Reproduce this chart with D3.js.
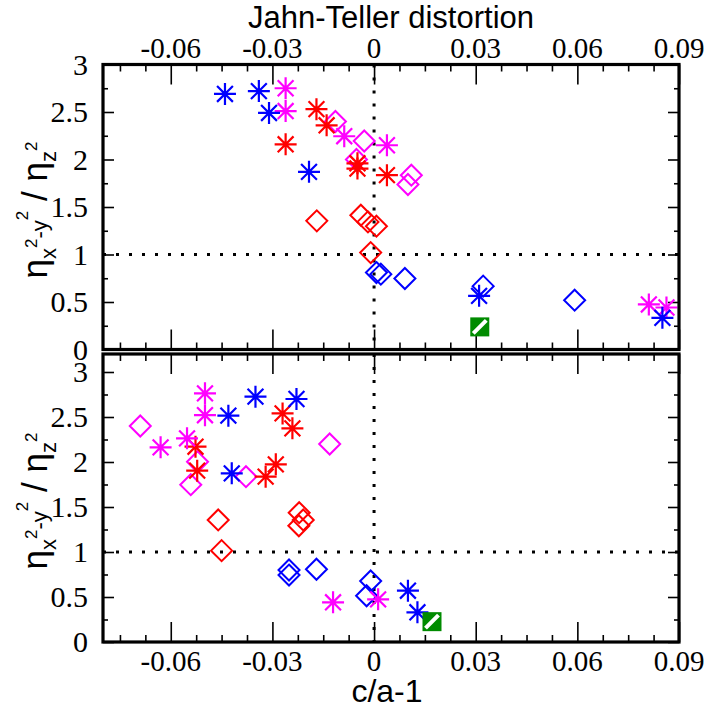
<!DOCTYPE html>
<html>
<head>
<meta charset="utf-8">
<script src="https://cdn.jsdelivr.net/npm/d3@7"></script>
<style>
  html, body { margin: 0; padding: 0; background: #fff; }
  svg { display: block; }
</style>
</head>
<body>
<svg id="chart" width="706" height="708"></svg>
<script>
// Ratio of orbital weights versus tetragonal distortion c/a-1
const xMajorTicks = [-0.06, -0.03, 0, 0.03, 0.06, 0.09];
const xTickLabels = ["-0.06", "-0.03", "0", "0.03", "0.06", "0.09"];
const yMajorTicks = [0, 0.5, 1, 1.5, 2, 2.5, 3];
const yTickLabels = ["0", "0.5", "1", "1.5", "2", "2.5", "3"];

// Upper panel: [c/a-1, ratio]
const topBlueStar = [[-0.0440, 2.69], [-0.0340, 2.72], [-0.0310, 2.49], [-0.0192, 1.87], [0.0310, 0.565], [0.0851, 0.333]];
const topMagentaStar = [[-0.0261, 2.75], [-0.0261, 2.51], [-0.0088, 2.245], [0.0038, 2.15], [0.0811, 0.474], [0.0863, 0.442]];
const topRedStar = [[-0.0170, 2.53], [-0.0140, 2.36], [-0.0261, 2.16], [-0.0049, 1.96], [-0.0049, 1.905], [0.0038, 1.835]];
const topMagentaDiamond = [[-0.0114, 2.40], [-0.0029, 2.195], [-0.0052, 2.0], [0.0110, 1.835], [0.0100, 1.737]];
const topRedDiamond = [[-0.0169, 1.354], [-0.0039, 1.414], [-0.0018, 1.343], [0.0007, 1.298], [-0.0010, 1.02]];
const topBlueDiamond = [[0.0007, 0.81], [0.0020, 0.793], [0.0091, 0.747], [0.0322, 0.667], [0.0592, 0.519]];
const topGreenSquare = [[0.0312, 0.238]];

// Lower panel: [c/a-1, ratio]
const botBlueStar = [[-0.0350, 2.726], [-0.0229, 2.70], [-0.0430, 2.515], [-0.0420, 1.874], [0.0100, 0.57], [0.0128, 0.33]];
const botMagentaStar = [[-0.0499, 2.763], [-0.0499, 2.52], [-0.0630, 2.163], [-0.0552, 2.263], [-0.0121, 0.441], [0.0012, 0.474]];
const botRedStar = [[-0.0270, 2.54], [-0.0241, 2.374], [-0.0527, 2.17], [-0.0522, 1.904], [-0.0290, 1.974], [-0.0320, 1.837]];
const botMagentaDiamond = [[-0.0690, 2.40], [-0.0521, 2.003], [-0.0541, 1.748], [-0.0378, 1.837], [-0.0131, 2.2]];
const botRedDiamond = [[-0.0460, 1.356], [-0.0450, 1.015], [-0.0221, 1.437], [-0.0209, 1.356], [-0.0222, 1.292]];
const botBlueDiamond = [[-0.0251, 0.80], [-0.0251, 0.744], [-0.0170, 0.808], [-0.0010, 0.678], [-0.0022, 0.514]];
const botGreenSquare = [[0.0171, 0.226]];

const BLUE = "#0000ff", RED = "#ff0000", MAGENTA = "#ff00ff", GREEN = "#008b00";
const SERIF = "'Liberation Serif', 'Times New Roman', 'DejaVu Serif', serif";
const SANS = "'Liberation Sans', Arial, sans-serif";

const svg = d3.select("#chart");
const x = d3.scaleLinear().domain([-0.08, 0.09]).range([103, 679]);
const xMinorTicks = d3.range(-0.075, 0.0901, 0.0075).filter(v => !xMajorTicks.some(m => Math.abs(m - v) < 1e-6));
const yMinorTicks = [0.25, 0.75, 1.25, 1.75, 2.25, 2.75];

const panels = [
  { y: d3.scaleLinear().domain([0, 3]).range([349.5, 64.5]), labelsTop: true,
    series: [
      { data: topRedDiamond, shape: "diamond", color: RED },
      { data: topMagentaDiamond, shape: "diamond", color: MAGENTA },
      { data: topBlueDiamond, shape: "diamond", color: BLUE },
      { data: topRedStar, shape: "star", color: RED },
      { data: topMagentaStar, shape: "star", color: MAGENTA },
      { data: topBlueStar, shape: "star", color: BLUE },
      { data: topGreenSquare, shape: "square", color: GREEN }
    ] },
  { y: d3.scaleLinear().domain([0, 3.2]).range([642, 354]), labelsTop: false,
    series: [
      { data: botRedDiamond, shape: "diamond", color: RED },
      { data: botMagentaDiamond, shape: "diamond", color: MAGENTA },
      { data: botBlueDiamond, shape: "diamond", color: BLUE },
      { data: botRedStar, shape: "star", color: RED },
      { data: botMagentaStar, shape: "star", color: MAGENTA },
      { data: botBlueStar, shape: "star", color: BLUE },
      { data: botGreenSquare, shape: "square", color: GREEN }
    ] }
];

function drawTicks(g, axisFn, scale, values, size) {
  g.call(axisFn(scale).tickValues(values).tickSize(-size).tickFormat(""))
    .call(s => s.select(".domain").remove())
    .call(s => s.selectAll(".tick line").attr("stroke", "#000").attr("stroke-width", 1.6));
}

panels.forEach((p, i) => {
  const y = p.y;
  const [yb, yt] = y.range();
  const [xl, xr] = x.range();
  const g = svg.append("g");

  // reference lines at c/a-1 = 0 and ratio = 1
  g.append("line").attr("x1", x(0)).attr("x2", x(0)).attr("y1", yt).attr("y2", yb)
    .attr("stroke", "#000").attr("stroke-width", 3).attr("stroke-dasharray", "3,10");
  g.append("line").attr("x1", xl).attr("x2", xr).attr("y1", y(1)).attr("y2", y(1))
    .attr("stroke", "#000").attr("stroke-width", 3).attr("stroke-dasharray", "3,10");

  // inward ticks on all four sides
  drawTicks(g.append("g").attr("transform", `translate(0,${yt})`), d3.axisTop, x, xMajorTicks, 20);
  drawTicks(g.append("g").attr("transform", `translate(0,${yt})`), d3.axisTop, x, xMinorTicks, 7);
  drawTicks(g.append("g").attr("transform", `translate(0,${yb})`), d3.axisBottom, x, xMajorTicks, 20);
  drawTicks(g.append("g").attr("transform", `translate(0,${yb})`), d3.axisBottom, x, xMinorTicks, 7);
  drawTicks(g.append("g").attr("transform", `translate(${xl},0)`), d3.axisLeft, y, yMajorTicks, 11);
  drawTicks(g.append("g").attr("transform", `translate(${xl},0)`), d3.axisLeft, y, yMinorTicks, 5);
  drawTicks(g.append("g").attr("transform", `translate(${xr},0)`), d3.axisRight, y, yMajorTicks, 11);
  drawTicks(g.append("g").attr("transform", `translate(${xr},0)`), d3.axisRight, y, yMinorTicks, 5);

  // y tick labels
  g.selectAll("text.ylab").data(yMajorTicks).join("text").attr("class", "ylab")
    .attr("x", xl - 15).attr("y", d => y(d) + 10)
    .attr("text-anchor", "end")
    .style("font-family", SERIF).style("font-size", "30px")
    .text((d, k) => yTickLabels[k]);

  // x tick labels
  g.selectAll("text.xlab").data(xMajorTicks).join("text").attr("class", "xlab")
    .attr("x", d => x(d)).attr("y", p.labelsTop ? yt - 6.5 : yb + 29)
    .attr("text-anchor", "middle")
    .style("font-family", SERIF).style("font-size", "29px")
    .text((d, k) => xTickLabels[k]);

  // markers
  p.series.forEach(s => {
    const m = g.append("g");
    s.data.forEach(([vx, vy]) => {
      const cx = x(vx), cy = y(vy);
      if (s.shape === "diamond") {
        const r = 10.5;
        m.append("path").attr("d", `M${cx},${cy - r}L${cx + r},${cy}L${cx},${cy + r}L${cx - r},${cy}Z`)
          .attr("fill", "none").attr("stroke", s.color).attr("stroke-width", 2);
      } else if (s.shape === "star") {
        const r = 11, d = r * 0.72;
        m.append("path")
          .attr("d", `M${cx - r},${cy}L${cx + r},${cy}M${cx},${cy - r}L${cx},${cy + r}` +
                     `M${cx - d},${cy - d}L${cx + d},${cy + d}M${cx - d},${cy + d}L${cx + d},${cy - d}`)
          .attr("fill", "none").attr("stroke", s.color).attr("stroke-width", 2.2);
      } else {
        const h = 9.5;
        m.append("rect").attr("x", cx - h).attr("y", cy - h).attr("width", 2 * h).attr("height", 2 * h)
          .attr("fill", s.color);
        m.append("line").attr("x1", cx - h + 3).attr("y1", cy + h - 3).attr("x2", cx + h - 3).attr("y2", cy - h + 3)
          .attr("stroke", "#fff").attr("stroke-width", 4);
      }
    });
  });

  // frame
  g.append("rect").attr("x", xl).attr("y", yt).attr("width", xr - xl).attr("height", yb - yt)
    .attr("fill", "none").attr("stroke", "#000").attr("stroke-width", 3.2);

  // y axis title: eta_{x^2-y^2} / eta_{z^2}
  const cy = (yt + yb) / 2 + 3;
  const t = svg.append("text")
    .attr("transform", `translate(47,${cy}) rotate(-90)`)
    .attr("text-anchor", "middle")
    .style("font-family", SANS).style("font-size", "35px");
  t.append("tspan").text("η");
  t.append("tspan").style("font-size", "22px").attr("dy", 9).text("x");
  t.append("tspan").style("font-size", "17px").attr("dy", -19).text("2");
  t.append("tspan").style("font-size", "22px").attr("dy", 10).text("-y");
  t.append("tspan").style("font-size", "17px").attr("dy", -19).text("2");
  t.append("tspan").attr("dy", 19).text(" / η");
  t.append("tspan").style("font-size", "22px").attr("dy", 9).text("z");
  t.append("tspan").style("font-size", "17px").attr("dy", -19).text("2");
});

// axis titles
svg.append("text").attr("x", 391).attr("y", 28).attr("text-anchor", "middle")
  .style("font-family", SANS).style("font-size", "31px")
  .text("Jahn-Teller distortion");
svg.append("text").attr("x", 387).attr("y", 702).attr("text-anchor", "middle")
  .style("font-family", SANS).style("font-size", "32px")
  .text("c/a-1");
</script>
</body>
</html>
